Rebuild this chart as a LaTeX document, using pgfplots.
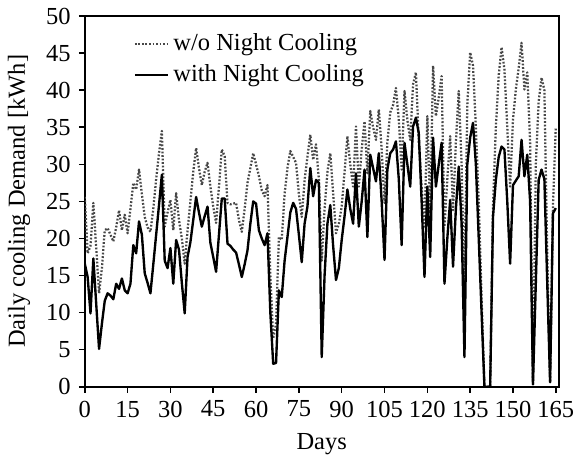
\documentclass[border=0pt,12pt]{standalone}
\usepackage{fontspec}
\setmainfont{Liberation Serif}
\usepackage{pgfplots}
\usepackage{pgfplotstable}
\pgfplotsset{compat=1.18}
\pgfplotstableread{
day wo with
0 25.6 16.6
1 18.0 14.8
2 19.0 9.9
3 24.8 17.3
4 18.8 11.2
5 12.6 5.1
6 16.0 8.5
7 21.1 11.6
8 21.4 12.6
9 20.5 12.3
10 19.6 11.8
11 21.5 13.9
12 23.8 13.2
13 21.1 14.6
14 23.2 13.0
15 20.7 12.6
16 24.0 13.9
17 27.5 19.1
18 26.6 18.0
19 29.3 22.3
20 26.0 20.5
21 22.9 15.3
22 21.5 14.0
23 20.9 12.6
24 24.0 16.5
25 28.0 20.5
26 31.5 24.5
27 34.5 28.6
28 21.6 17.0
29 23.5 16.0
30 25.2 18.7
31 21.1 13.9
32 26.1 19.8
33 22.5 18.5
34 20.0 14.0
35 16.6 9.9
36 21.1 17.5
37 25.0 19.5
38 29.0 22.5
39 32.2 25.6
40 29.5 23.5
41 27.2 21.6
42 29.0 23.0
43 30.2 24.3
44 27.0 19.4
45 24.3 17.5
46 22.1 15.5
47 27.0 20.5
48 32.0 25.4
49 31.1 25.4
50 24.8 19.3
51 24.6 19.0
52 24.7 18.5
53 24.8 18.1
54 22.5 16.5
55 20.9 14.8
56 24.0 16.5
57 27.5 18.4
58 29.5 22.0
59 31.5 25.0
60 30.0 24.7
61 28.4 21.1
62 26.5 20.0
63 25.7 19.1
64 27.2 20.7
65 15.0 10.0
66 6.5 3.1
67 8.5 3.2
68 20.2 13.0
69 19.8 12.1
70 26.0 17.0
71 29.5 20.2
72 31.8 23.5
73 31.0 24.8
74 30.2 24.0
75 26.0 20.5
76 22.9 16.8
77 27.9 22.0
78 31.0 24.3
79 34.0 29.5
80 30.6 25.7
81 32.7 27.9
82 28.0 27.5
83 17.0 4.0
84 24.0 15.0
85 29.0 22.0
86 31.5 24.5
87 26.0 19.0
88 20.7 14.4
89 22.0 16.0
90 24.3 19.8
91 29.0 23.0
92 33.8 26.6
93 30.0 24.0
94 27.0 22.0
95 35.1 28.8
96 27.0 21.6
97 32.0 25.0
98 35.8 29.3
99 28.8 20.2
100 37.2 31.3
101 35.0 29.5
102 33.3 27.7
103 37.4 31.5
104 32.0 25.0
105 24.8 17.1
106 33.0 29.3
107 37.0 31.5
108 38.0 32.0
109 40.3 33.1
110 36.0 28.0
111 29.3 19.1
112 39.9 32.9
113 36.0 30.0
114 33.3 27.0
115 40.8 35.1
116 42.4 36.3
117 33.2 34.2
118 27.0 25.0
119 21.6 14.8
120 36.5 27.0
121 23.4 17.5
122 43.3 33.6
123 36.5 27.0
124 39.0 30.0
125 41.9 32.9
126 21.6 13.9
127 28.0 20.0
128 33.8 25.2
129 23.8 16.2
130 33.0 24.0
131 39.9 29.7
132 30.0 22.0
133 13.5 4.0
134 38.0 30.0
135 45.1 33.6
136 43.3 35.6
137 35.0 30.0
138 25.0 20.0
139 12.0 10.0
140 0 0
141 0 0
142 0 0
143 24.3 22.9
144 35.0 27.9
145 42.0 31.0
146 45.8 32.4
147 42.8 32.0
148 35.0 25.0
149 27.0 16.6
150 36.0 27.2
151 40.1 27.8
152 43.0 28.4
153 46.4 33.3
154 40.1 28.4
155 42.4 31.3
156 33.0 25.0
157 0.2 0.3
158 30.0 14.0
159 38.5 27.9
160 41.7 29.3
161 40.0 28.0
162 18.0 14.0
163 0.6 0.6
164 24.3 23.4
165 35.0 24.1
}\datatable

\begin{document}
\begin{tikzpicture}
\begin{axis}[
  scale only axis, width=241bp, height=188.5bp,
  xmin=0, xmax=166, ymin=0, ymax=50,
  xtick={0,15,...,165}, ytick={0,5,...,50},
  tick align=outside, xtick pos=bottom, ytick pos=left,
  major tick length=3bp,
  axis line style={line width=1bp},
  every tick/.style={black, line width=0.8bp},
  xlabel={Days}, ylabel={Daily cooling Demand [kWh]},
  /pgf/number format/assume math mode=true,
  tick label style={font=\fontsize{12.5}{14}\selectfont},
  label style={font=\fontsize{12.5}{14}\selectfont},
  legend style={at={(0.09,0.975)}, anchor=north west, draw=none, fill=none,
    font=\fontsize{12.5}{14}\selectfont, row sep=1.5bp},
  legend cell align=left,
]
\addplot[black!72, dash pattern=on 0.9bp off 0.9bp, line width=1.15bp, line join=round] table[x=day,y=wo]{\datatable};
\addlegendentry{w/o Night Cooling}
\addplot[black, line width=1.2bp, line join=round] table[x=day,y=with]{\datatable};
\addlegendentry{with Night Cooling}
\end{axis}
\end{tikzpicture}
\end{document}
